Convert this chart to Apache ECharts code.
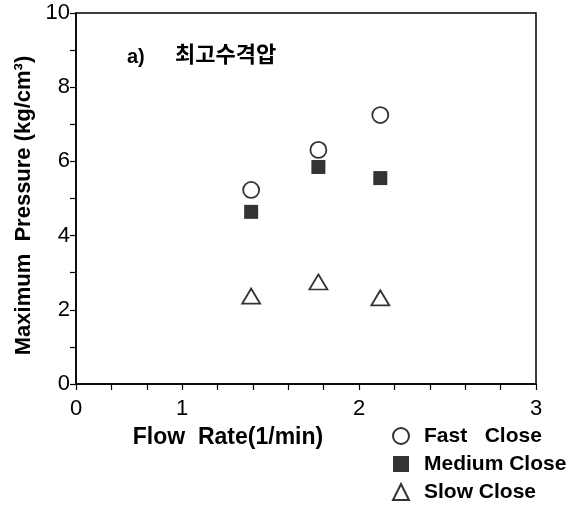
<!DOCTYPE html>
<html>
<head>
<meta charset="utf-8">
<script src="https://cdn.jsdelivr.net/npm/echarts@6/dist/echarts.min.js"></script>
<style>
  html, body { margin: 0; padding: 0; background: #fff; }
  #chart { width: 571px; height: 508px; }
</style>
</head>
<body>
<div id="chart"></div>
<script>
// Flow rate (1/min) for each test point
const flowRates = [1.39, 1.77, 2.12];
// Maximum pressure (kg/cm3) by closing speed
const fastClose = [5.23, 6.31, 7.25];
const mediumClose = [4.64, 5.85, 5.55];
const slowClose = [2.37, 2.75, 2.32];
const seriesNames = ['Fast   Close', 'Medium Close', 'Slow Close'];
const yTickLabels = ['0', '2', '4', '6', '8', '10'];
const xTickLabels = { origin: '0', one: '1', two: '2', three: '3' };

const FONT = 'Liberation Sans';
const xMin = 0.4;

function pairs(ys) { return flowRates.map((x, i) => [x, ys[i]]); }

const chart = echarts.init(document.getElementById('chart'), null, { renderer: 'canvas' });

chart.setOption({
  animation: false,
  backgroundColor: '#fff',
  textStyle: { fontFamily: FONT, color: '#000' },
  title: [
    { text: 'a)', left: 122, top: 42, textStyle: { fontFamily: FONT, fontSize: 20, fontWeight: 'bold', color: '#000' } },
    { text: '최고수격압', left: 170, top: 38, textStyle: { fontFamily: 'Noto Sans CJK KR', fontSize: 22, fontWeight: 'bold', color: '#000' } }
  ],
  grid: {
    left: 76, right: 35, top: 13, bottom: 124,
    show: true, borderColor: '#000', borderWidth: 1.5, backgroundColor: 'transparent'
  },
  xAxis: {
    type: 'value',
    min: xMin, max: 3, interval: 0.2,
    name: 'Flow  Rate(1/min)',
    nameLocation: 'middle',
    nameGap: 42,
    nameTextStyle: { fontFamily: FONT, fontSize: 23, fontWeight: 'bold', color: '#000', padding: [0, 156, 0, 0] },
    axisLine: { show: true, onZero: false, lineStyle: { color: '#000', width: 1.5 } },
    axisTick: { show: true, inside: false, length: 6, lineStyle: { color: '#000', width: 1.2 } },
    splitLine: { show: false },
    axisLabel: {
      margin: 14,
      fontFamily: FONT, fontSize: 22, color: '#000',
      formatter: function (v) {
        if (Math.abs(v - xMin) < 1e-6) return xTickLabels.origin;
        if (Math.abs(v - 1) < 1e-6) return xTickLabels.one;
        if (Math.abs(v - 2) < 1e-6) return xTickLabels.two;
        if (Math.abs(v - 3) < 1e-6) return xTickLabels.three;
        return '';
      }
    }
  },
  yAxis: {
    type: 'value',
    min: 0, max: 10, interval: 2,
    name: 'Maximum  Pressure (kg/cm³)',
    nameLocation: 'middle',
    nameRotate: 90,
    nameGap: 38,
    nameTextStyle: { fontFamily: FONT, fontSize: 22, fontWeight: 'bold', color: '#000', padding: [0, 14, 0, 0] },
    axisLine: { show: true, lineStyle: { color: '#000', width: 1.5 } },
    axisTick: { show: true, inside: false, length: 6, lineStyle: { color: '#000', width: 1.2 } },
    minorTick: { show: true, splitNumber: 2, length: 6, lineStyle: { color: '#000', width: 1.2 } },
    splitLine: { show: false },
    axisLabel: {
      margin: 6,
      fontFamily: FONT, fontSize: 22, color: '#000',
      formatter: function (v) { return yTickLabels[Math.round(v / 2)]; }
    }
  },
  legend: {
    orient: 'vertical',
    left: 387, top: 420,
    height: 86,
    itemGap: 6,
    itemWidth: 16, itemHeight: 16,
    data: seriesNames,
    textStyle: { fontFamily: FONT, fontSize: 21, lineHeight: 22, fontWeight: 'bold', color: '#000', padding: [0, 0, 0, 10] }
  },
  series: [
    {
      name: seriesNames[0], type: 'scatter', data: pairs(fastClose),
      symbol: 'circle', symbolSize: 16,
      itemStyle: { color: '#fff', borderColor: '#000', borderWidth: 1.8 }
    },
    {
      name: seriesNames[1], type: 'scatter', data: pairs(mediumClose),
      symbol: 'rect', symbolSize: 14,
      itemStyle: { color: '#000', borderColor: '#000', borderWidth: 0 }
    },
    {
      name: seriesNames[2], type: 'scatter', data: pairs(slowClose),
      symbol: 'triangle', symbolSize: [18, 15],
      itemStyle: { color: '#fff', borderColor: '#000', borderWidth: 1.8 }
    }
  ]
});
</script>
</body>
</html>
